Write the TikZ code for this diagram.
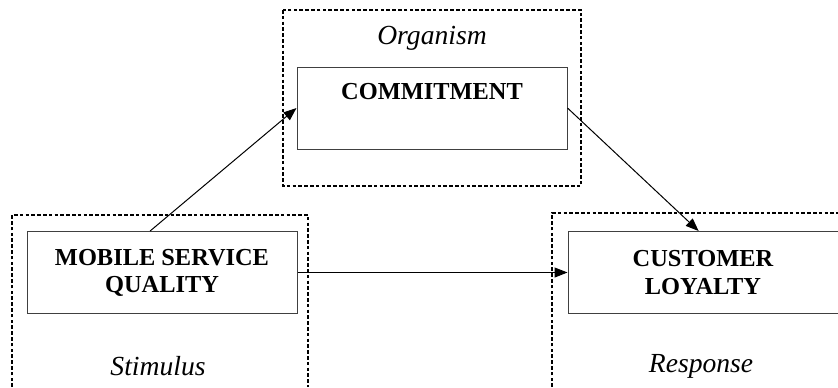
\documentclass[tikz,border=0pt]{standalone}
\usepackage{fontspec}
\setmainfont{Liberation Serif}
\usetikzlibrary{arrows.meta, positioning}

\begin{document}
\begin{tikzpicture}[x=0.5pt, y=-0.5pt,
  box/.style={draw=black!75, line width=0.5pt, minimum width=135pt, minimum height=41pt, inner sep=0pt, align=center, font=\fontsize{12.2}{13.6}\selectfont\bfseries},
  group/.style={draw, dashed, dash pattern=on 1.8pt off 1.1pt, line width=0.6pt},
  stage/.style={inner sep=0pt, font=\fontsize{13.8}{16}\selectfont\itshape},
  flow/.style={-{Triangle[length=6.5pt, width=5pt]}, line width=0.5pt}]
  \useasboundingbox (0,0) rectangle (838,387);

  \draw[group] (283,10) rectangle (581,186);
  \draw[group] (12,387) -- (12,215) -- (308,215) -- (308,387);
  \draw[group] (552,387) -- (552,213) -- (838,213);

  \node[box] (msq) at (162,272.5) {MOBILE SERVICE\\QUALITY};
  \node[box, right=135pt of msq] (cl) {CUSTOMER\\LOYALTY};
  \node[box] (com) at (432,108) {};
  \node[inner sep=0pt, font=\fontsize{12.2}{13.6}\selectfont\bfseries] (comtxt) at (432,92) {COMMITMENT};

  \node[stage] (org) at (432,38) {Organism};
  \node[stage] (stim) at (158,366) {Stimulus};
  \node[stage] (resp) at (701,366) {Response};

  \draw[flow] (msq.106) -- (com.west);
  \draw[flow] (com.east) -- (cl.96);
  \draw[flow] (msq.east) -- (cl.west);
\end{tikzpicture}
\end{document}
